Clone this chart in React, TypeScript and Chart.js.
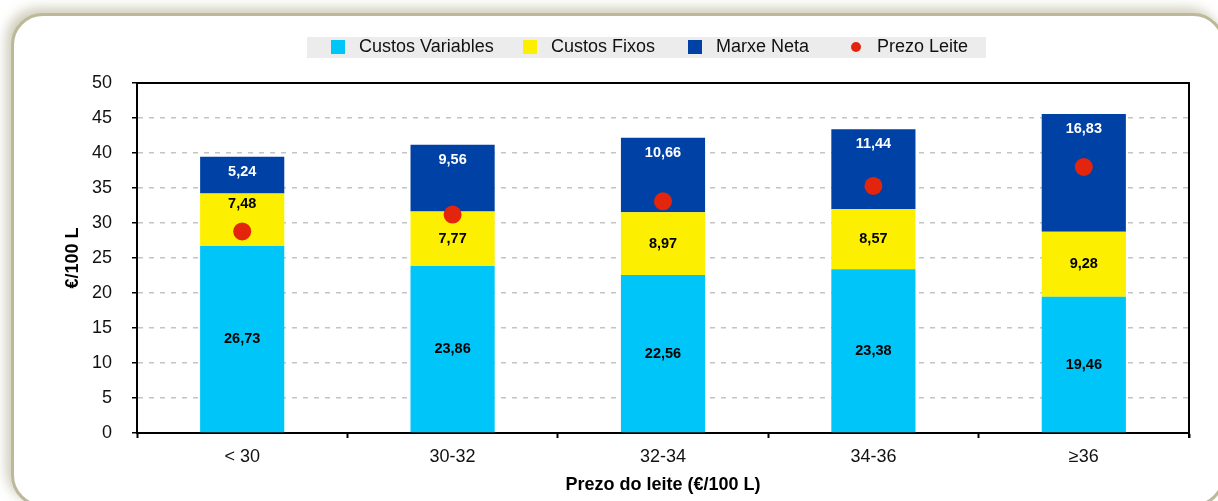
import React, { useEffect, useRef } from "react";
import { Chart, registerables } from "chart.js";

Chart.register(...registerables);

const categories = ["< 30", "30-32", "32-34", "34-36", "≥36"];
const custosVariables = [26.73, 23.86, 22.56, 23.38, 19.46];
const custosFixos = [7.48, 7.77, 8.97, 8.57, 9.28];
const marxeNeta = [5.24, 9.56, 10.66, 11.44, 16.83];
const prezoLeite = [28.8, 31.2, 33.1, 35.3, 38.0];
const yTicks = [0, 5, 10, 15, 20, 25, 30, 35, 40, 45, 50];

const FONT = "'Liberation Sans', Arial, Helvetica, sans-serif";
const C_CYAN = "#00C5F8";
const C_YELLOW = "#FCEF00";
const C_BLUE = "#0041A6";
const C_RED = "#E2250C";

const fmt = (v: number) => v.toFixed(2).replace(".", ",");

const plotBoxPlugin = {
  id: "plotBox",
  afterDraw(chart: any) {
    const { ctx, chartArea } = chart;
    ctx.save();
    ctx.strokeStyle = "#000";
    ctx.lineWidth = 2;
    ctx.beginPath();
    ctx.moveTo(chartArea.left, chartArea.top);
    ctx.lineTo(chartArea.right, chartArea.top);
    ctx.lineTo(chartArea.right, chartArea.bottom + 5);
    ctx.stroke();
    ctx.restore();
  },
};

const legendPlugin = {
  id: "customLegend",
  afterDraw(chart: any) {
    const { ctx } = chart;
    const markerX = [331, 523, 688, 849];
    const cy = 47.5;
    ctx.save();
    ctx.fillStyle = "#ECECEC";
    ctx.fillRect(307, 37, 679, 21);
    [0, 1, 2, 3].forEach((di, i) => {
      const ds = chart.data.datasets[di];
      const x = markerX[i];
      ctx.fillStyle = ds.backgroundColor;
      if (ds.type === "line") {
        ctx.beginPath();
        ctx.arc(x + 7, cy - 0.5, 5, 0, Math.PI * 2);
        ctx.fill();
      } else {
        ctx.fillRect(x, cy - 7.5, 14, 14);
      }
      ctx.fillStyle = "#111";
      ctx.font = `18px ${FONT}`;
      ctx.textBaseline = "middle";
      ctx.textAlign = "left";
      ctx.fillText(ds.label, x + 28, cy);
    });
    ctx.restore();
  },
};

const dataLabelPlugin = {
  id: "dataLabels",
  afterDatasetsDraw(chart: any) {
    const { ctx } = chart;
    const yScale = chart.scales.y;
    ctx.save();
    ctx.font = `bold 14.5px ${FONT}`;
    ctx.textAlign = "center";
    ctx.textBaseline = "middle";
    [0, 1, 2].forEach((di) => {
      const meta = chart.getDatasetMeta(di);
      const ds = chart.data.datasets[di];
      meta.data.forEach((el: any, i: number) => {
        const { x, y, base } = el.getProps(["x", "y", "base"], true);
        const top = Math.min(y, base);
        const bottom = Math.max(y, base);
        let ly = (top + bottom) / 2;
        if (di === 2) {
          ly = top + 15;
          ctx.fillStyle = "#fff";
        } else {
          ctx.fillStyle = "#000";
          const dotY = yScale.getPixelForValue(prezoLeite[i]);
          if (Math.abs(ly - dotY) < 15) ly = dotY - 27;
        }
        ctx.fillText(fmt(ds.data[i]), x, ly);
      });
    });
    ctx.restore();
  },
};

export default function App() {
  const canvasRef = useRef<HTMLCanvasElement | null>(null);

  useEffect(() => {
    if (!canvasRef.current) return;
    Chart.defaults.font.family = FONT;
    const chart = new Chart(canvasRef.current, {
      type: "bar",
      data: {
        labels: categories,
        datasets: [
          {
            type: "bar",
            label: "Custos Variables",
            data: custosVariables,
            backgroundColor: C_CYAN,
            order: 1,
            categoryPercentage: 1,
            barPercentage: 0.4,
          },
          {
            type: "bar",
            label: "Custos Fixos",
            data: custosFixos,
            backgroundColor: C_YELLOW,
            order: 1,
            categoryPercentage: 1,
            barPercentage: 0.4,
          },
          {
            type: "bar",
            label: "Marxe Neta",
            data: marxeNeta,
            backgroundColor: C_BLUE,
            order: 1,
            categoryPercentage: 1,
            barPercentage: 0.4,
          },
          {
            type: "line",
            label: "Prezo Leite",
            data: prezoLeite,
            backgroundColor: C_RED,
            borderColor: C_RED,
            showLine: false,
            pointRadius: 9,
            pointBorderWidth: 0,
            pointBackgroundColor: C_RED,
            stack: "price",
            order: 0,
          } as any,
        ],
      },
      options: {
        animation: false,
        responsive: false,
        devicePixelRatio: 1,
        layout: { padding: { top: 83, right: 29, left: 0, bottom: 0 } },
        plugins: {
          legend: { display: false },
          tooltip: { enabled: false },
        },
        scales: {
          x: {
            stacked: true,
            offset: true,
            grid: {
              offset: true,
              drawOnChartArea: false,
              drawTicks: true,
              tickLength: 5,
              tickColor: "#000",
              tickWidth: 2,
            },
            border: { color: "#000", width: 2 },
            ticks: {
              color: "#111",
              font: { size: 18, family: FONT },
              padding: 8,
            },
            title: {
              display: true,
              text: "Prezo do leite (€/100 L)",
              color: "#000",
              font: { size: 18, weight: "bold", family: FONT },
              padding: { top: 0, bottom: 5 },
            },
            afterFit(scale: any) {
              scale.height = 68;
            },
          },
          y: {
            stacked: true,
            min: 0,
            max: 50,
            afterBuildTicks(scale: any) {
              scale.ticks = yTicks.map((v) => ({ value: v }));
            },
            grid: {
              color: (ctx: any) =>
                ctx.tick && (ctx.tick.value === 0 || ctx.tick.value === 50)
                  ? "rgba(0,0,0,0)"
                  : "#C4C4C4",
              lineWidth: 1.5,
              drawTicks: true,
              tickLength: 5,
              tickColor: "#000",
              tickWidth: 1.5,
              tickBorderDash: [],
            },
            border: { color: "#000", width: 2, dash: [5, 6] },
            ticks: {
              color: "#111",
              font: { size: 18, family: FONT },
              padding: 20,
            },
            title: {
              display: true,
              text: "€/100 L",
              color: "#000",
              font: { size: 18, weight: "bold", family: FONT },
              padding: { top: 62, bottom: 0 },
            },
            afterFit(scale: any) {
              scale.width = 137;
            },
          },
        },
      },
      plugins: [plotBoxPlugin, dataLabelPlugin, legendPlugin],
    });
    return () => chart.destroy();
  }, []);

  return (
    <div
      style={{
        position: "absolute",
        left: 0,
        top: 0,
        width: 1218,
        height: 501,
        overflow: "hidden",
        background: "#fff",
      }}
    >
      <div
        style={{
          position: "absolute",
          left: 11,
          top: 13,
          width: 1214,
          height: 494,
          boxSizing: "border-box",
          border: "3px solid #BCB898",
          borderRadius: 32,
          background: "#fff",
          boxShadow: "-5px -5px 12px rgba(160,155,120,0.5)",
        }}
      />
      <canvas
        ref={canvasRef}
        width={1218}
        height={501}
        style={{ position: "absolute", left: 0, top: 0, width: 1218, height: 501 }}
      />
    </div>
  );
}
